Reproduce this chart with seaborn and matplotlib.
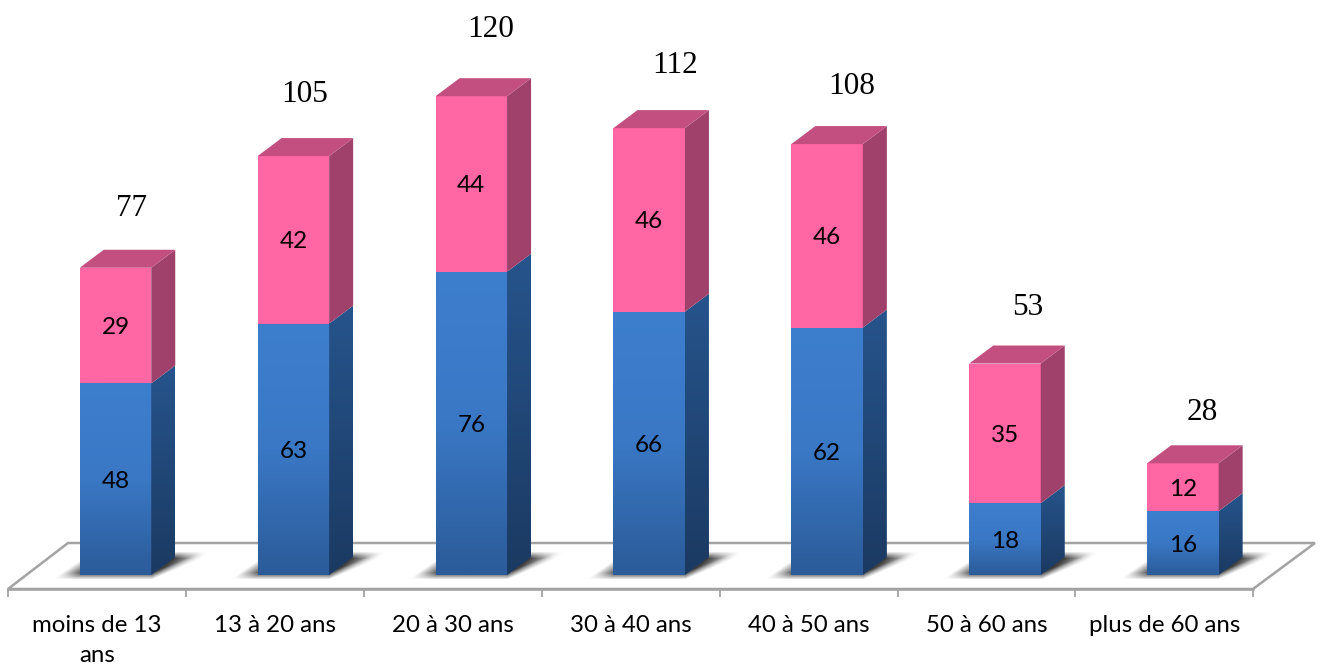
import numpy as np
import pandas as pd
import matplotlib
matplotlib.use("Agg")
import matplotlib.pyplot as plt
from matplotlib.colors import LinearSegmentedColormap
from matplotlib.patches import Polygon
import seaborn as sns

categories = ["moins de 13\nans", "13 à 20 ans", "20 à 30 ans", "30 à 40 ans",
              "40 à 50 ans", "50 à 60 ans", "plus de 60 ans"]
blue_values = [48, 63, 76, 66, 62, 18, 16]
pink_values = [29, 42, 44, 46, 46, 35, 12]
totals = [77, 105, 120, 112, 108, 53, 28]

# hand-placed offsets of the total labels, in pixels, from the bar centre / back top
total_dx = [16, 11, 19, 26, 25, 23, 19]
total_dy = [45, 47, 52, 48, 43, 42, 36]

W, H = 1320, 668
PX_X, PX_Y = 177.9, 3.99      # pixels per data unit
X0, Y0 = 115.5, 575.0         # pixel of category 0 / of value 0
BAR_W = 71.5 / PX_X
DX, DY = 24 / PX_X, 18 / PX_Y


def xd(px):
    return (px - X0) / PX_X


def yd(py):
    return (Y0 - py) / PX_Y


sns.set_theme(style="white")
plt.rcParams["font.family"] = ["Lato", "DejaVu Sans"]

fig = plt.figure(figsize=(W / 100, H / 100), dpi=100)
ax = fig.add_axes([0, 0, 1, 1])

df = pd.DataFrame({"cat": categories, "blue": blue_values, "pink": pink_values})
sns.barplot(data=df, x="cat", y="blue", color="#3d7ecf", saturation=1, width=BAR_W,
            linewidth=0, ax=ax, zorder=3)
sns.barplot(data=df, x="cat", y="pink", bottom=df["blue"], color="#ff66a3", saturation=1,
            width=BAR_W, linewidth=0, ax=ax, zorder=3)

xlim = (xd(0), xd(W))
ylim = (yd(H), yd(0))

cm_front = LinearSegmentedColormap.from_list("f", ["#3d7ecd", "#3a78c5", "#2b5b99"])
cm_side = LinearSegmentedColormap.from_list("s", ["#26548c", "#1b3a62"])
grad = np.linspace(0, 1, 128).reshape(-1, 1)

# floor
floor_y = yd(589)
back_y = yd(543)
ax.add_patch(Polygon([(xd(8), floor_y), (xd(68), back_y), (xd(1315), back_y), (xd(1253), floor_y)],
                     closed=True, facecolor="white", edgecolor="#a3a3a3", lw=1.8, zorder=1))

# soft floor shadows
for i, _ in enumerate(categories):
    gx = np.arange(40, 215)
    gy = np.arange(548, 582)
    XX, YY = np.meshgrid(gx, gy)
    t = np.clip((578 - YY) / 26, 0, 1)
    left = 53 + 38 * t
    right = 178 + 30 * t
    lower = 579 - np.clip(XX - 151, 0, None) * 0.42
    a = (np.clip((XX - left) / 22, 0, 1) * np.clip((right - XX) / 28, 0, 1)
         * np.clip((YY - 551) / 7, 0, 1) * np.clip((lower - YY) / 7, 0, 1))
    rgba = np.zeros(a.shape + (4,))
    rgba[..., :3] = 0.2
    rgba[..., 3] = a * 0.95
    ax.imshow(rgba, extent=[xd(40) + i, xd(215) + i, yd(582), yd(548)], aspect="auto",
              origin="upper", zorder=2, interpolation="bilinear")

n = len(categories)
blue_bars = ax.containers[0]
pink_bars = ax.containers[1]

for i, bar in enumerate(blue_bars):
    l, b, w, h = bar.get_x(), bar.get_y(), bar.get_width(), bar.get_height()
    ax.imshow(grad, extent=[l, l + w, b, b + h], cmap=cm_front, aspect="auto", origin="upper", zorder=3.2)
    poly = Polygon([(l + w, b), (l + w + DX, b + DY), (l + w + DX, b + h + DY), (l + w, b + h)],
                   closed=True, facecolor="none", edgecolor="none", zorder=3)
    ax.add_patch(poly)
    im = ax.imshow(grad, extent=[l + w, l + w + DX, b, b + h + DY], cmap=cm_side, aspect="auto",
                   origin="upper", zorder=3.2)
    im.set_clip_path(poly)

for i, bar in enumerate(pink_bars):
    l, b, w, h = bar.get_x(), bar.get_y(), bar.get_width(), bar.get_height()
    t = b + h
    ax.add_patch(Polygon([(l + w, b), (l + w + DX, b + DY), (l + w + DX, t + DY), (l + w, t)],
                         closed=True, facecolor="#a0416b", edgecolor="none", zorder=3.3))
    ax.add_patch(Polygon([(l, t), (l + DX, t + DY), (l + w + DX, t + DY), (l + w, t)],
                         closed=True, facecolor="#c34f80", edgecolor="none", zorder=3.3))
    ax.text(i + total_dx[i] / PX_X, t + DY + total_dy[i] / PX_Y, str(totals[i]),
            ha="center", va="center_baseline", fontsize=22.5, family="Liberation Serif",
            color="black", zorder=6)
    bar.set_zorder(3.25)

for bars, vals in ((blue_bars, blue_values), (pink_bars, pink_values)):
    texts = ax.bar_label(bars, labels=[str(v) for v in vals], label_type="center",
                         fontsize=17.5, color="black", zorder=6)
    for tx in texts:
        tx.set_va("center_baseline")

# axis
ax.set_xlim(*xlim)
ax.set_ylim(*ylim)
for s in ["top", "left", "right"]:
    ax.spines[s].set_visible(False)
ax.spines["bottom"].set_position(("data", floor_y))
ax.spines["bottom"].set_bounds(xd(8), xd(8) + n)
ax.spines["bottom"].set_color("#a3a3a3")
ax.spines["bottom"].set_linewidth(1.8)
ax.spines["bottom"].set_zorder(1.5)
ax.set_yticks([])
ax.set_xticks([xd(97) + i for i in range(n)])
ax.set_xticklabels(categories, fontsize=17.3, color="black", linespacing=1.5)
ax.set_xticks([xd(8) + i for i in range(n + 1)], minor=True)
ax.tick_params(axis="x", which="major", length=0, pad=19, bottom=True)
ax.tick_params(axis="x", which="minor", length=6, width=1.3, color="#a3a3a3", bottom=True)
ax.set_xlabel("")
ax.set_ylabel("")
ax.grid(False)

fig.savefig("out.png", dpi=100, facecolor="white")
